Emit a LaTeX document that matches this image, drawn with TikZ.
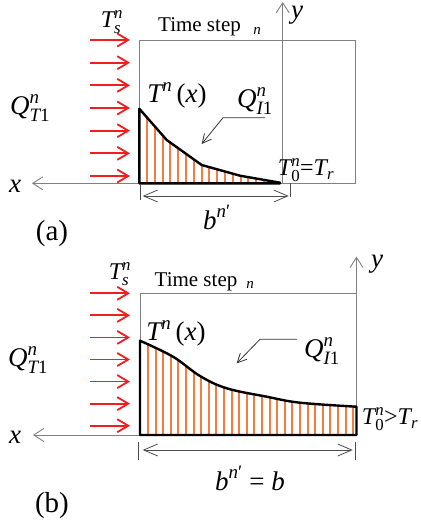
\documentclass[tikz,border=0pt]{standalone}
\usepackage{amsmath}
\usepackage{fontspec}
\setmainfont{Liberation Serif}
\usetikzlibrary{arrows.meta}
\newcommand\vi[1]{\text{\itshape #1}}
\newcommand\vu[1]{\text{\upshape #1}}
\definecolor{heatred}{RGB}{240,30,30}
\definecolor{hatchor}{RGB}{242,125,65}
\definecolor{framegray}{RGB}{128,128,128}
\begin{document}
\begin{tikzpicture}[x=1pt,y=-1pt,
  frame/.style={draw=framegray,line width=0.9pt},
  axis/.style={draw=framegray,line width=0.9pt,-{Straight Barb[length=10pt,width=13pt]}},
  heat/.style={draw=heatred,line width=1.8pt,-{Straight Barb[length=11pt,width=13pt]}},
  profile/.style={draw=black,line width=2.4pt,line join=round},
  hatch/.style={draw=hatchor,line width=2pt},
  dim/.style={draw=black!70,line width=0.8pt,{Straight Barb[length=14pt,width=12pt]}-{Straight Barb[length=14pt,width=12pt]}},
  dimtick/.style={draw=black!70,line width=0.8pt},
  lead/.style={draw=black!80,line width=0.8pt,-{Straight Barb[length=9pt,width=9pt]}},
  big/.style={inner sep=0pt,font=\fontsize{27}{30}\selectfont},
  mid/.style={inner sep=0pt,font=\fontsize{24}{27}\selectfont},
  txt/.style={inner sep=0pt,font=\fontsize{21}{24}\selectfont},
  small/.style={inner sep=0pt,font=\fontsize{15}{18}\selectfont\itshape},
  panelcap/.style={inner sep=0pt,font=\fontsize{29}{32}\selectfont}]
\useasboundingbox (0,0) rectangle (421,531);

% ================= panel (a) =================
\draw[frame] (139.3,40.7) rectangle (355.3,183.3);
\coordinate (oa) at (282.7,183.3);
\coordinate (ya) at (282.7,2);
\coordinate (xa) at (32,183.3);
\draw[axis] (oa) -- (ya);
\draw[axis] (oa) -- (xa);
\foreach \k in {0,...,6}
  \draw[heat] (90,{40+22.67*\k}) -- (130,{40+22.67*\k});
\begin{scope}
  \clip (139.3,183.3) -- (139.3,108.7) -- (166.7,140) -- (201.7,165) -- (240,175.7) -- (280,182.7) -- (280,183.3) -- cycle;
  \foreach \i in {0,...,18} \draw[hatch] ({147+7.8*\i},100) -- ++(0,90);
\end{scope}
\draw[profile] (139.3,183.3) -- (139.3,108.7) -- (166.7,140) -- (201.7,165) -- (240,175.7) -- (280,182.7) -- (280,183.3) -- cycle;
\draw[dimtick] (140.7,185) -- (140.7,200);
\draw[dimtick] (290.3,183) -- (290.3,197);
\coordinate (da1) at (142.7,196);
\coordinate (da2) at (288.7,196);
\draw[dim] (da1) -- (da2);
\coordinate (la1) at (265,117.7);
\coordinate (la2) at (223,117.7);
\coordinate (la3) at (201.7,144);
\draw[lead] (la1) -- (la2) -- (la3);

\node[mid] (tsa) at (112,22) {$\vi{T}^{\vi{n}}_{\vi{s}}$};
\node[txt] (tstepa) at (199.5,27) {Time step};
\node[small] (na) at (257,31) {n};
\node[big] (qta) at (30,108) {$\vi{Q}^{\vi{n}}_{\vi{T}\vu{1}}$};
\node[big] (txa) at (177,95) {$\vi{T}^{\vi{n}}\,\vu{(}\vi{x}\vu{)}$};
\node[big] (qia) at (255,101) {$\vi{Q}^{\vi{n}}_{\vi{I}\vu{1}}$};
\node[mid] (t0a) at (306,170) {$\vi{T}^{\vi{n}}_{\vu{0}}\vu{=}\vi{T}_{\vi{r}}$};
\node[big] (ba) at (217,217) {$\vi{b}^{\vi{n}\vu{′}}$};
\node[big] (xla) at (15,186) {$\vi{x}$};
\node[big] (yla) at (297,15) {$\vi{y}$};
\node[panelcap] (capa) at (52,234) {(a)};

% ================= panel (b) =================
\draw[frame] (140,293.3) rectangle (356.5,435);
\coordinate (ob) at (356.5,435);
\coordinate (yb) at (356.5,256.7);
\coordinate (xb) at (33,435);
\draw[axis] (ob) -- (yb);
\draw[axis] (ob) -- (xb);
\foreach \k in {0,...,6}
  \draw[heat] (90,{293.3+22.07*\k}) -- (130,{293.3+22.07*\k});
\begin{scope}
  \clip (140,435) -- (140,340.7) -- plot[smooth,tension=0.6] coordinates {(140,340.7) (173,356.7) (200,376) (226.7,388.3) (266.7,396.7) (300,402.7) (356.5,406.7)} -- (356.5,435) -- cycle;
  \foreach \i in {0,...,27} \draw[hatch] ({148+7.6*\i},330) -- ++(0,110);
\end{scope}
\draw[profile] (140,435) -- (140,340.7) -- plot[smooth,tension=0.6] coordinates {(140,340.7) (173,356.7) (200,376) (226.7,388.3) (266.7,396.7) (300,402.7) (356.5,406.7)} -- (356.5,435) -- cycle;
\draw[dimtick] (138.3,441.7) -- (138.3,460);
\draw[dimtick] (355,441.7) -- (355,460);
\coordinate (db1) at (142.7,450);
\coordinate (db2) at (352.7,450);
\draw[dim] (db1) -- (db2);
\coordinate (lb1) at (297,339.3);
\coordinate (lb2) at (260,339.3);
\coordinate (lb3) at (236.7,363.3);
\draw[lead] (lb1) -- (lb2) -- (lb3);

\node[mid] (tsb) at (120,274) {$\vi{T}^{\vi{n}}_{\vi{s}}$};
\node[txt] (tstepb) at (196,282) {Time step};
\node[small] (nb) at (250,285) {n};
\node[big] (qtb) at (28,360) {$\vi{Q}^{\vi{n}}_{\vi{T}\vu{1}}$};
\node[big] (txb) at (176,333) {$\vi{T}^{\vi{n}}\,\vu{(}\vi{x}\vu{)}$};
\node[big] (qib) at (322,351) {$\vi{Q}^{\vi{n}}_{\vi{I}\vu{1}}$};
\node[mid] (t0b) at (390,419) {$\vi{T}^{\vi{n}}_{\vu{0}}\vu{>}\vi{T}_{\vi{r}}$};
\node[big] (bb) at (250,478) {$\vi{b}^{\vi{n}\vu{′}}\vu{ = }\vi{b}$};
\node[big] (xlb) at (15,437) {$\vi{x}$};
\node[big] (ylb) at (377,264) {$\vi{y}$};
\node[panelcap] (capb) at (52,506) {(b)};
\end{tikzpicture}
\end{document}
